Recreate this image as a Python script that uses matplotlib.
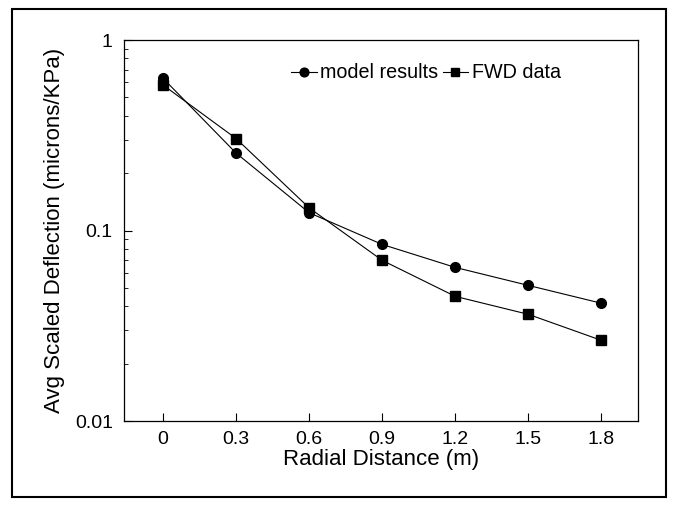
import matplotlib
matplotlib.use("Agg")
import matplotlib.pyplot as plt
from matplotlib.ticker import FixedLocator, FixedFormatter, LogLocator, NullFormatter
from matplotlib.patches import Rectangle

plt.rcParams['font.family'] = ['Liberation Sans', 'DejaVu Sans']

distance = [0, 0.3, 0.6, 0.9, 1.2, 1.5, 1.8]
model_results = [0.630, 0.255, 0.124, 0.0845, 0.064, 0.0515, 0.0415]
fwd_data = [0.581, 0.304, 0.1315, 0.0697, 0.0451, 0.0363, 0.0265]
x_ticks = [0, 0.3, 0.6, 0.9, 1.2, 1.5, 1.8]
x_tick_labels = ["0", "0.3", "0.6", "0.9", "1.2", "1.5", "1.8"]
y_ticks = [0.01, 0.1, 1]
y_tick_labels = ["0.01", "0.1", "1"]

fig = plt.figure(figsize=(6.76, 5.07), dpi=100)
ax = fig.add_axes([0.1834, 0.1696, 0.7604, 0.7515])

ax.plot(distance, model_results, color='black', lw=0.8, marker='o', ms=7,
        label='model results')
ax.plot(distance, fwd_data, color='black', lw=0.8, marker='s', ms=7,
        label='FWD data')

ax.set_yscale('log')
ax.set_ylim(0.01, 1)
ax.set_xlim(-0.16, 1.95)
ax.xaxis.set_major_locator(FixedLocator(x_ticks))
ax.xaxis.set_major_formatter(FixedFormatter(x_tick_labels))
ax.yaxis.set_major_locator(FixedLocator(y_ticks))
ax.yaxis.set_major_formatter(FixedFormatter(y_tick_labels))
ax.yaxis.set_minor_locator(LogLocator(base=10, subs=range(2, 10)))
ax.yaxis.set_minor_formatter(NullFormatter())
ax.tick_params(axis='both', which='major', direction='in', length=6, width=0.8,
               labelsize=14, top=False, right=False)
ax.tick_params(axis='y', which='minor', direction='in', length=3, width=0.6,
               right=False)
ax.tick_params(axis='x', pad=7)
ax.tick_params(axis='y', pad=8)
for s in ax.spines.values():
    s.set_linewidth(0.9)

ax.set_xlabel('Radial Distance (m)', fontsize=16, labelpad=1)
ax.set_ylabel('Avg Scaled Deflection (microns/KPa)', fontsize=16, labelpad=7)

ax.legend(loc='upper right', bbox_to_anchor=(0.885, 0.985), ncol=2, frameon=False,
          fontsize=14.2, handlelength=1.3, handletextpad=0.2, columnspacing=0.2,
          markerscale=0.9)

fig.patches.append(Rectangle((12/676, 1-497/507), (666-12)/676, (497-9)/507,
                             transform=fig.transFigure, fill=False,
                             edgecolor='black', lw=1.5))

fig.savefig('out.png', dpi=100)
